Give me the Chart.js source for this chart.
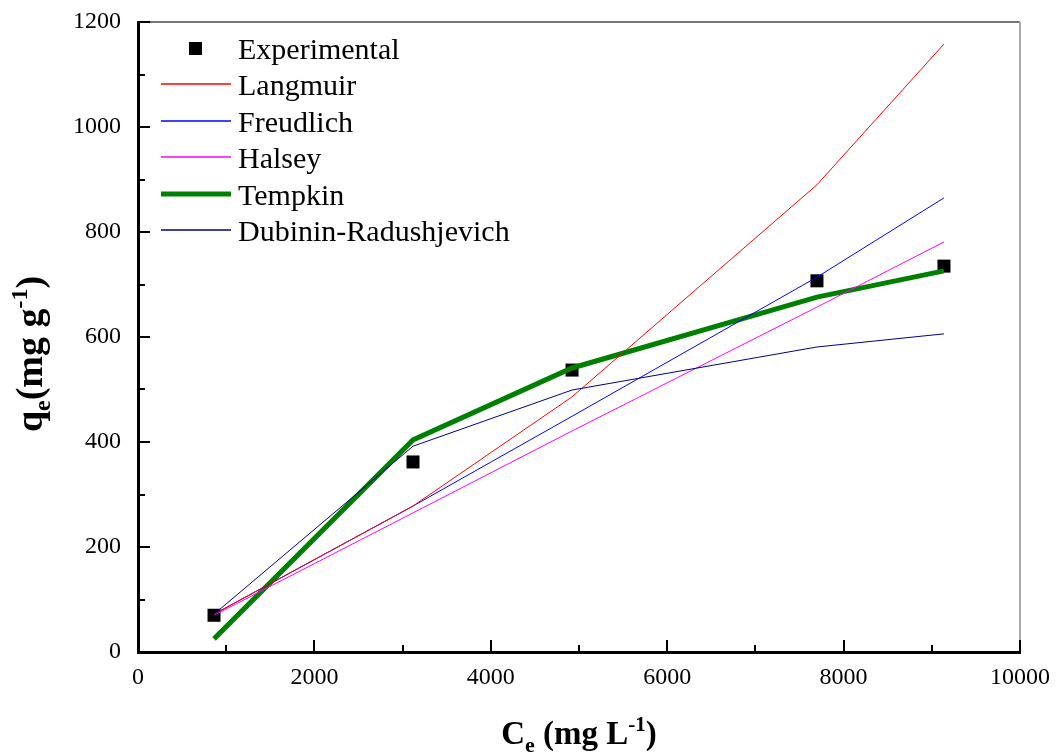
<!DOCTYPE html>
<html>
<head>
<meta charset="utf-8">
<title>Isotherm fits</title>
<script src="https://cdn.jsdelivr.net/npm/chart.js@4.4.0/dist/chart.umd.min.js"></script>
<style>
  html, body { margin: 0; padding: 0; background: #fff; }
  #wrap { width: 1057px; height: 753px; position: relative; }
</style>
</head>
<body>
<div id="wrap"><canvas id="isoChart"></canvas></div>
<script>
// equilibrium concentration Ce (mg/L) and uptake qe (mg/g)
const ce = [862, 3118, 4921, 7698, 9138];
const qeExp = [70, 362, 537, 707, 735];

// model fits at the same Ce points
const langmuir = [72, 278, 486, 890, 1158];
const freundlich = [72, 278, 449, 714, 865];
const halsey = [70, 265, 421, 657, 781];
const tempkin = [25, 404, 541, 676, 726];
const dubinin = [72, 392, 499, 581, 606];

const xMajor = [0, 2000, 4000, 6000, 8000, 10000];
const xMinor = [1000, 3000, 5000, 7000, 9000];
const yMajor = [0, 200, 400, 600, 800, 1000, 1200];
const yMinor = [100, 300, 500, 700, 900, 1100];

const SERIF = "'Liberation Serif', 'Times New Roman', serif";

function pts(ys) {
  return ce.map((x, i) => ({ x: x, y: ys[i] }));
}

function lineSet(label, ys, color, width, order) {
  return {
    label: label,
    data: pts(ys),
    showLine: true,
    borderColor: color,
    backgroundColor: color,
    borderWidth: width,
    pointRadius: 0,
    tension: 0,
    order: order
  };
}

const datasets = [
  {
    label: "Experimental",
    data: pts(qeExp),
    showLine: false,
    pointStyle: "rect",
    pointRadius: 9.2,
    pointHoverRadius: 9.2,
    backgroundColor: "#000",
    borderColor: "#000",
    borderWidth: 0,
    order: 10
  },
  lineSet("Langmuir", langmuir, "#ff0000", 1, 2),
  lineSet("Freudlich", freundlich, "#0000ff", 1, 3),
  lineSet("Halsey", halsey, "#ff00ff", 1, 4),
  lineSet("Tempkin", tempkin, "#008000", 5, 5),
  lineSet("Dubinin-Radushjevich", dubinin, "#000080", 1, 1)
];

// draws text made of normal / sub / superscript pieces, centred on cx
function richText(ctx, parts, cx, baseY) {
  let total = 0;
  parts.forEach(p => {
    ctx.font = "bold " + p.size + "px " + SERIF;
    p.w = ctx.measureText(p.t).width;
    total += p.w;
  });
  let x = cx - total / 2;
  ctx.textAlign = "left";
  ctx.textBaseline = "alphabetic";
  parts.forEach(p => {
    ctx.font = "bold " + p.size + "px " + SERIF;
    ctx.fillText(p.t, x, baseY + (p.dy || 0));
    x += p.w;
  });
}

const decorPlugin = {
  id: "decor",
  afterDraw(chart) {
    const ctx = chart.ctx;
    const a = chart.chartArea;
    const xs = chart.scales.x;
    const ys = chart.scales.y;
    ctx.save();

    // top and right frame lines
    ctx.lineWidth = 2;
    ctx.strokeStyle = "#777";
    ctx.beginPath();
    ctx.moveTo(a.left, a.top);
    ctx.lineTo(a.right, a.top);
    ctx.stroke();
    ctx.strokeStyle = "#aaa";
    ctx.beginPath();
    ctx.moveTo(a.right, a.top);
    ctx.lineTo(a.right, a.bottom - 6);
    ctx.stroke();

    // inward ticks
    ctx.strokeStyle = "#000";
    ctx.lineWidth = 2;
    const tick = (vals, len, horiz) => {
      vals.forEach(v => {
        ctx.beginPath();
        if (horiz) {
          const px = Math.round(xs.getPixelForValue(v));
          ctx.moveTo(px, a.bottom);
          ctx.lineTo(px, a.bottom - len);
        } else {
          const py = Math.round(ys.getPixelForValue(v));
          ctx.moveTo(a.left, py);
          ctx.lineTo(a.left + len, py);
        }
        ctx.stroke();
      });
    };
    tick(xMajor, 12, true);
    tick(xMinor, 7, true);
    tick(yMajor, 12, false);
    tick(yMinor, 7, false);

    // legend
    const rowY = [48, 84, 121, 157, 194, 230];
    chart.data.datasets.forEach((ds, i) => {
      const y = rowY[i];
      if (ds.showLine) {
        ctx.strokeStyle = ds.borderColor;
        ctx.lineWidth = Math.max(ds.borderWidth, 1.5);
        ctx.beginPath();
        ctx.moveTo(161, y);
        ctx.lineTo(231, y);
        ctx.stroke();
      } else {
        ctx.fillStyle = ds.backgroundColor;
        ctx.fillRect(189, y - 6, 13, 13);
      }
      ctx.fillStyle = "#000";
      ctx.font = "30px " + SERIF;
      ctx.textAlign = "left";
      ctx.textBaseline = "alphabetic";
      ctx.fillText(ds.label, 238, y + 11);
    });

    // axis titles
    ctx.fillStyle = "#000";
    richText(ctx, [
      { t: "C", size: 33 },
      { t: "e", size: 22, dy: 8 },
      { t: " (mg L", size: 33 },
      { t: "-1", size: 21, dy: -13 },
      { t: ")", size: 33 }
    ], (a.left + a.right) / 2, 744);

    ctx.save();
    ctx.translate(42, 354);
    ctx.rotate(-Math.PI / 2);
    richText(ctx, [
      { t: "q", size: 38 },
      { t: "e", size: 24, dy: 8 },
      { t: "(mg g", size: 38 },
      { t: "-1", size: 24, dy: -15 },
      { t: ")", size: 38 }
    ], 0, 0);
    ctx.restore();

    ctx.restore();
  }
};

const plainTick = v => String(v);

const config = {
  type: "scatter",
  data: { datasets: datasets },
  options: {
    responsive: true,
    maintainAspectRatio: false,
    animation: false,
    layout: { padding: { top: 22, right: 37, left: 0, bottom: 0 } },
    plugins: {
      legend: { display: false },
      tooltip: { enabled: false }
    },
    scales: {
      x: {
        type: "linear",
        min: 0,
        max: 10000,
        afterFit(scale) {
          scale.height = 101;
          scale.paddingLeft = 0;
          scale.paddingRight = 0;
        },
        grid: { display: false, drawTicks: false },
        border: { display: true, color: "#000", width: 3 },
        ticks: {
          stepSize: 2000,
          padding: 11,
          color: "#000",
          callback: plainTick,
          font: { family: SERIF, size: 24 }
        }
      },
      y: {
        type: "linear",
        min: 0,
        max: 1200,
        afterFit(scale) {
          scale.width = 138;
          scale.paddingTop = 0;
          scale.paddingBottom = 0;
        },
        grid: { display: false, drawTicks: false },
        border: { display: true, color: "#000", width: 3 },
        ticks: {
          stepSize: 200,
          padding: 17,
          color: "#000",
          callback: plainTick,
          font: { family: SERIF, size: 24 }
        }
      }
    }
  },
  plugins: [decorPlugin]
};

const isoChart = new Chart(document.getElementById("isoChart").getContext("2d"), config);
</script>
</body>
</html>
